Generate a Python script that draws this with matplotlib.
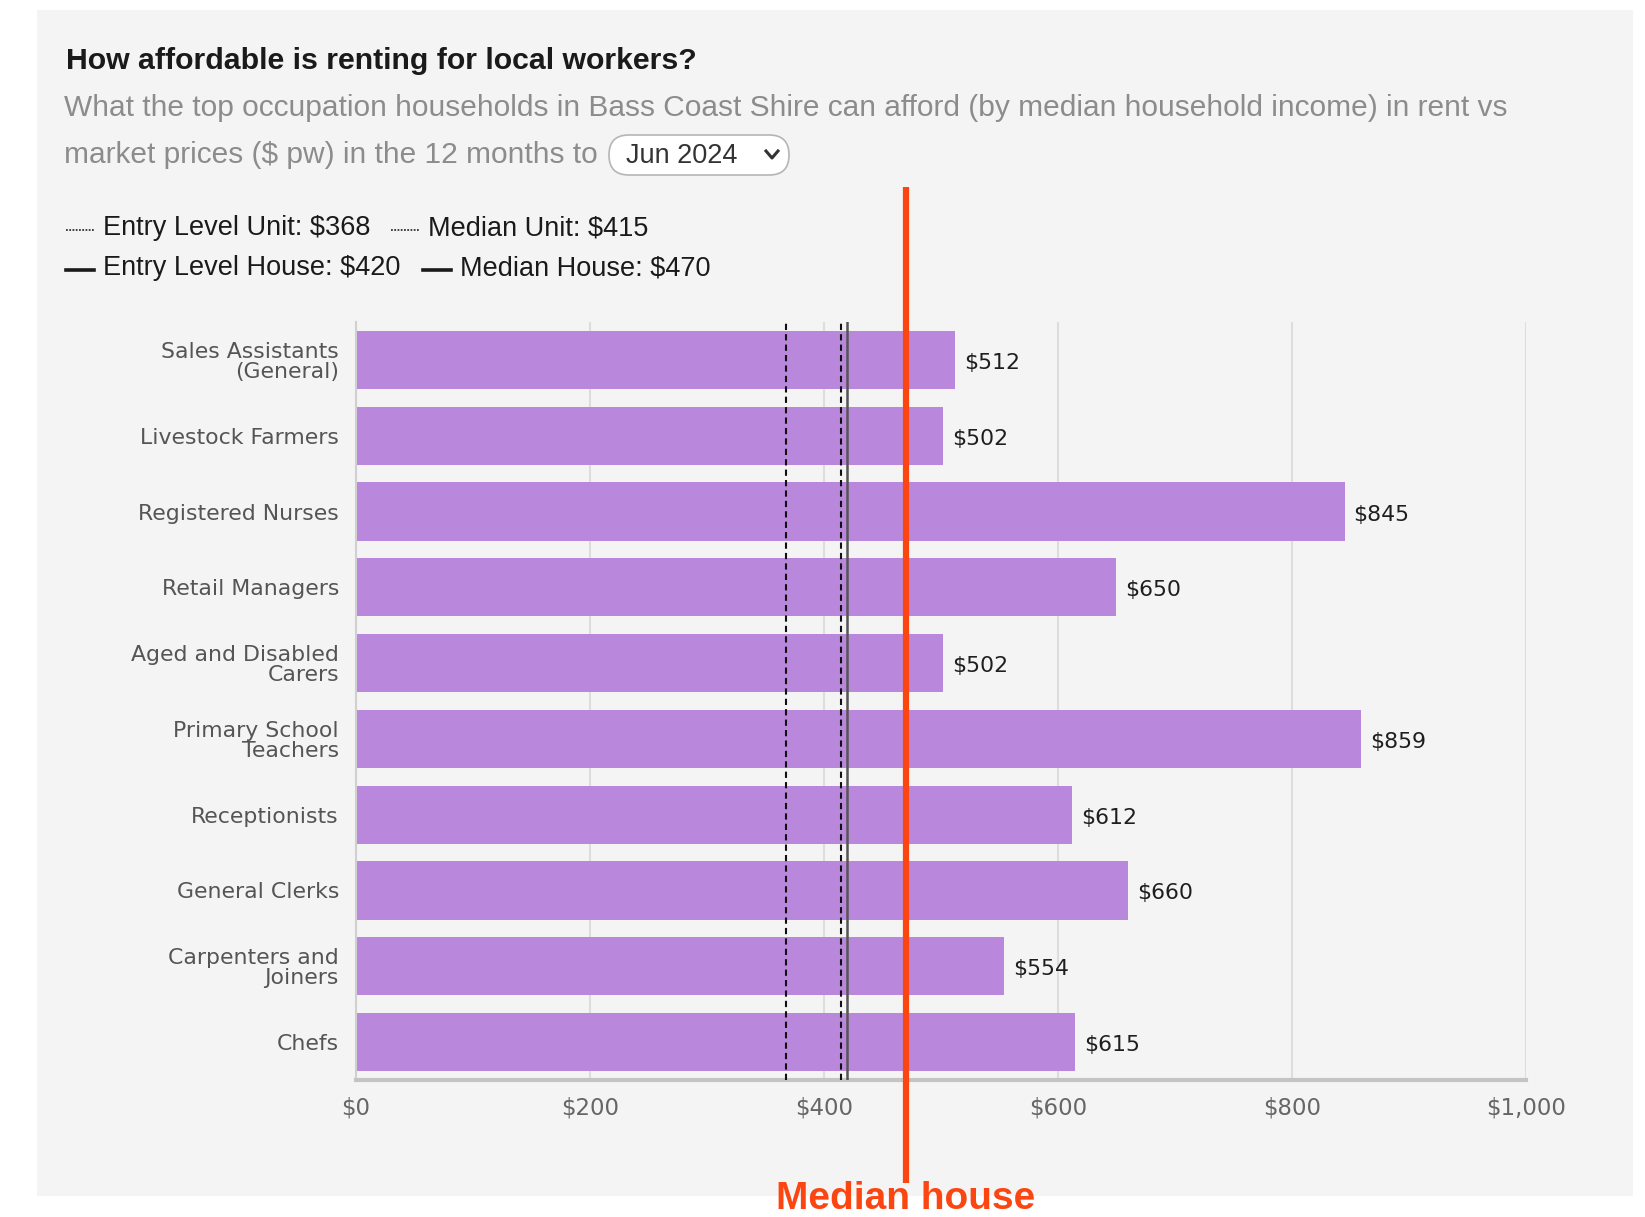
import matplotlib
matplotlib.use("Agg")
import matplotlib.pyplot as plt
from matplotlib import font_manager
from matplotlib.patches import Rectangle, FancyBboxPatch
from matplotlib.lines import Line2D
from matplotlib.transforms import blended_transform_factory

# occupations and what their median household income can afford in weekly rent
occupations = [
    "Sales Assistants\n(General)",
    "Livestock Farmers",
    "Registered Nurses",
    "Retail Managers",
    "Aged and Disabled\nCarers",
    "Primary School\nTeachers",
    "Receptionists",
    "General Clerks",
    "Carpenters and\nJoiners",
    "Chefs",
]
affordable_rent = [512, 502, 845, 650, 502, 859, 612, 660, 554, 615]

# market rents ($ pw)
ref_names = ["Entry Level Unit", "Median Unit", "Entry Level House", "Median House"]
ref_values = [368, 415, 420, 470]

x_ticks = [0, 200, 400, 600, 800, 1000]
x_ticklabels = ["$0", "$200", "$400", "$600", "$800", "$1,000"]

period = "Jun 2024"
callout = "Median house"

installed = {f.name for f in font_manager.fontManager.ttflist}
narrow = "Liberation Sans Narrow" if "Liberation Sans Narrow" in installed else None

W, H = 1645, 1217
fig = plt.figure(figsize=(W / 100, H / 100), dpi=100)
fig.patch.set_facecolor("white")


def fx(px):
    return px / W


def fy(py):
    return 1 - py / H


# grey panel
fig.patches.append(Rectangle((fx(37), fy(1196)), fx(1633 - 37), (1196 - 10) / H,
                             transform=fig.transFigure, facecolor="#f4f4f4",
                             edgecolor="none", zorder=-5))

fig.text(fx(66), fy(61), "How affordable is renting for local workers?",
         fontsize=21.8, fontweight="bold", family="Liberation Sans",
         color="#1a1a1a", va="center")
fig.text(fx(64), fy(108),
         "What the top occupation households in Bass Coast Shire can afford "
         "(by median household income) in rent vs",
         fontsize=21.5, family="Liberation Sans", color="#8c8c8c", va="center")
fig.text(fx(64), fy(155), "market prices ($ pw) in the 12 months to",
         fontsize=21.5, family="Liberation Sans", color="#8c8c8c", va="center")

# period selector
fig.patches.append(FancyBboxPatch((fx(609), fy(175)), fx(789 - 609), 40 / H,
                                  boxstyle="round,pad=0,rounding_size=0.012",
                                  transform=fig.transFigure, facecolor="white",
                                  edgecolor="#b5b5b5", linewidth=1.2, zorder=1,
                                  mutation_aspect=W / H))
fig.text(fx(626), fy(156), period, fontsize=19.5, family="Liberation Sans",
         color="#333333", va="center", zorder=2)
fig.lines.append(Line2D([fx(766), fx(772), fx(778)], [fy(151), fy(158), fy(151)],
                        transform=fig.transFigure, color="#333333",
                        linewidth=2.2, zorder=2))

# legend of reference rents
leg_font = dict(fontsize=21 if narrow else 19.5,
                family=[narrow, "Liberation Sans"] if narrow else "Liberation Sans",
                color="#1a1a1a", va="center")
legend_pos = [(66, 228), (391, 228), (66, 268), (423, 268)]
for name, val, (px, py) in zip(ref_names, ref_values, legend_pos):
    if "Unit" in name:
        fig.lines.append(Line2D([fx(px), fx(px + 28)], [fy(py + 2), fy(py + 2)],
                                transform=fig.transFigure, color="#333333",
                                linewidth=1.3, linestyle=(0, (1, 0.8))))
    else:
        fig.lines.append(Line2D([fx(px), fx(px + 28)], [fy(py + 2), fy(py + 2)],
                                transform=fig.transFigure, color="#1a1a1a",
                                linewidth=2.6))
    fig.text(fx(px + 37), fy(py), f"{name}: ${val}", **leg_font)

ax = fig.add_axes([fx(355.6), fy(1080), fx(1526 - 355.6), (1080 - 322) / H])
ax.set_facecolor("none")

ypos = list(range(len(occupations)))
bars = ax.barh(ypos, affordable_rent, height=0.77, color="#b987dc", zorder=2)
for y, v in zip(ypos, affordable_rent):
    ax.annotate(f"${v}", (v, y), xytext=(9, -3), textcoords="offset pixels",
                va="center", ha="left", fontsize=15.8, color="#1e1e1e",
                family="DejaVu Sans")

ax.set_xlim(0, 1000)
ax.set_ylim(9.5, -0.5)
ax.set_yticks(ypos)
ax.set_yticklabels(occupations, fontsize=15.8, color="#555555",
                   linespacing=0.98)
ax.set_xticks(x_ticks)
ax.set_xticklabels(x_ticklabels, fontsize=16.5, color="#666666")
ax.tick_params(axis="both", length=0)
ax.tick_params(axis="y", pad=12)
ax.tick_params(axis="x", pad=12)
ax.xaxis.grid(True, color="#dddddd", linewidth=1.5, zorder=0)
ax.set_axisbelow(True)
for s in ["top", "right"]:
    ax.spines[s].set_visible(False)
ax.spines["left"].set_color("#d0d0d0")
ax.spines["left"].set_linewidth(1.5)
ax.spines["bottom"].set_color("#c4c4c4")
ax.spines["bottom"].set_linewidth(3)

# reference rent lines
ax.axvline(ref_values[0], color="#111111", linewidth=1.5,
           linestyle=(0, (3, 2)), zorder=3)
ax.axvline(ref_values[1], color="#111111", linewidth=1.5,
           linestyle=(0, (3, 2)), zorder=3)
ax.axvline(ref_values[2], color="#555555", linewidth=1.8, zorder=3)

# highlighted median house line
trans = blended_transform_factory(ax.transData, ax.transAxes)
ax.plot([ref_values[3], ref_values[3]], [1.178, -0.136], transform=trans,
        color="#fc4611", linewidth=4.5, clip_on=False, zorder=4,
        solid_capstyle="butt")
ax.text(ref_values[3], -0.157, callout, transform=trans, ha="center",
        va="center", fontsize=34 if narrow else 28, fontweight="bold",
        family=[narrow, "Liberation Sans"] if narrow else "Liberation Sans",
        color="#fc4611", zorder=5)

fig.savefig("out.png", dpi=100)
